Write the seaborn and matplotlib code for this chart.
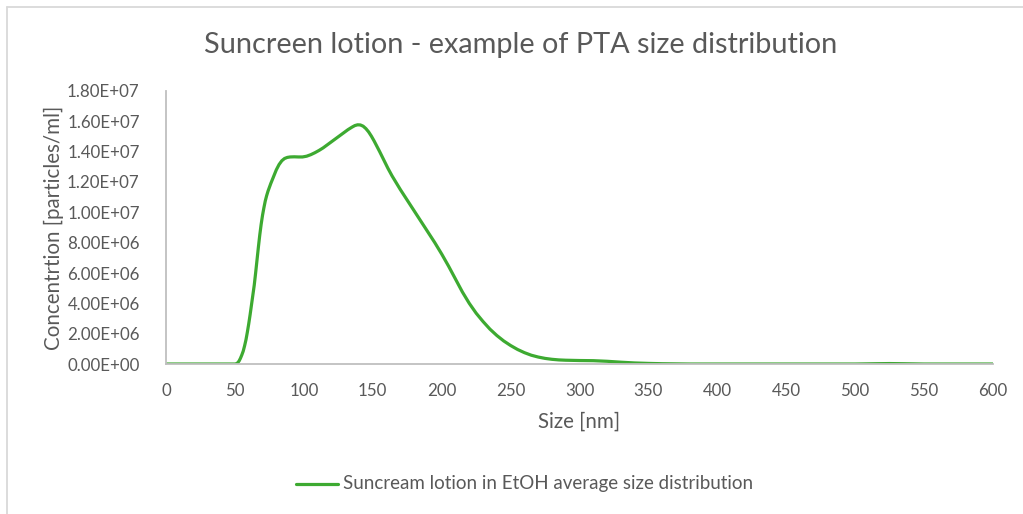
import matplotlib
matplotlib.use("Agg")
import matplotlib.pyplot as plt
import seaborn as sns
import pandas as pd
from matplotlib.lines import Line2D

size_nm = [0, 10, 20, 30, 40, 50, 51, 52, 53, 54, 55, 56, 57, 58, 59, 60, 61, 62, 63, 64,
           65, 66, 67, 68, 69, 70, 71, 72, 73, 74, 76, 78, 80, 82, 84, 86, 88, 90, 93, 96,
           99, 102, 105, 108, 111, 114, 117, 120, 123, 126, 129, 132, 135, 137, 139, 141, 143, 145, 147, 149,
           151, 153, 155, 158, 161, 164, 167, 170, 175, 180, 185, 190, 195, 200, 205, 210, 215, 220, 225, 230,
           235, 240, 245, 250, 255, 260, 265, 270, 275, 280, 285, 290, 300, 310, 320, 330, 340, 350, 360, 370,
           380, 400, 450, 500, 515, 525, 535, 550, 600]
conc_e6 = [0, 0, 0, 0, 0, 0, 0.02, 0.08, 0.2, 0.38, 0.6, 0.85, 1.2, 1.6, 2.1, 2.65, 3.25, 3.9, 4.55, 5.2,
           6.0, 6.85, 7.7, 8.5, 9.2, 9.8, 10.3, 10.75, 11.1, 11.4, 11.9, 12.35, 12.8, 13.15, 13.4, 13.55, 13.62, 13.65, 13.66, 13.65,
           13.65, 13.7, 13.8, 13.93, 14.08, 14.25, 14.45, 14.65, 14.85, 15.05, 15.25, 15.45, 15.62, 15.72, 15.77, 15.76, 15.68, 15.52, 15.3, 15.02,
           14.7, 14.35, 14.0, 13.45, 12.9, 12.4, 11.95, 11.5, 10.8, 10.1, 9.4, 8.7, 8.0, 7.25, 6.45, 5.6, 4.75, 4.0, 3.35, 2.8,
           2.3, 1.88, 1.52, 1.22, 0.96, 0.75, 0.58, 0.46, 0.37, 0.31, 0.27, 0.25, 0.23, 0.22, 0.18, 0.12, 0.07, 0.04, 0.02, 0.01,
           0, 0, 0, 0, 0.02, 0.03, 0.02, 0, 0]
y_ticks = [0, 2e6, 4e6, 6e6, 8e6, 1e7, 1.2e7, 1.4e7, 1.6e7, 1.8e7]
x_ticks = [0, 50, 100, 150, 200, 250, 300, 350, 400, 450, 500, 550, 600]
series_name = "Suncream lotion in EtOH average size distribution"

df = pd.DataFrame({"Size [nm]": size_nm, "conc": [v * 1e6 for v in conc_e6]})
df["series"] = series_name

sns.set_theme(style="white")
plt.rcParams['font.family'] = ['Lato', 'DejaVu Sans']

fig = plt.figure(figsize=(10.23, 5.14), dpi=100)
ax = fig.add_axes([0.1623, 0.2918, 0.8084, 0.5312])

sns.lineplot(data=df, x="Size [nm]", y="conc", hue="series", palette=["#3DAA31"],
             linewidth=2.3, ax=ax, legend=False)

ax.set_xlim(0, 600)
ax.set_ylim(0, 1.8e7)
ax.set_xticks(x_ticks)
ax.set_yticks(y_ticks)
ax.set_xticklabels([str(t) for t in x_ticks])
ax.set_yticklabels(["%.2E" % t for t in y_ticks])
tc = "#595959"
ax.tick_params(axis="both", which="both", length=0, labelsize=12.2, colors=tc)
ax.tick_params(axis="y", pad=19)
ax.tick_params(axis="x", pad=14)
for s in ["top", "right"]:
    ax.spines[s].set_visible(False)
for s in ["left", "bottom"]:
    ax.spines[s].set_color("#BFBFBF")
    ax.spines[s].set_linewidth(1.3)
ax.grid(False)

ax.set_xlabel("Size [nm]", fontsize=14.8, color=tc, labelpad=9)
ax.set_ylabel("Concentrtion [particles/ml]", fontsize=14.8, color=tc, labelpad=2)

fig.text(521 / 1023, 0.912, "Suncreen lotion - example of PTA size distribution",
         ha="center", va="center", fontsize=20.8, color=tc)

# legend
fig.add_artist(Line2D([296 / 1023, 338 / 1023], [1 - 484 / 514, 1 - 484 / 514],
                      color="#3DAA31", linewidth=2.3))
fig.text(343 / 1023, 1 - 484 / 514, series_name, ha="left", va="center",
         fontsize=13.5, color=tc)

# chart border (left & top)
fig.add_artist(Line2D([7 / 1023, 7 / 1023], [0, 1 - 7 / 514], color="#D9D9D9", linewidth=1.3))
fig.add_artist(Line2D([7 / 1023, 1], [1 - 7 / 514, 1 - 7 / 514], color="#D9D9D9", linewidth=1.3))

fig.savefig("out.png", dpi=100, facecolor="white")
